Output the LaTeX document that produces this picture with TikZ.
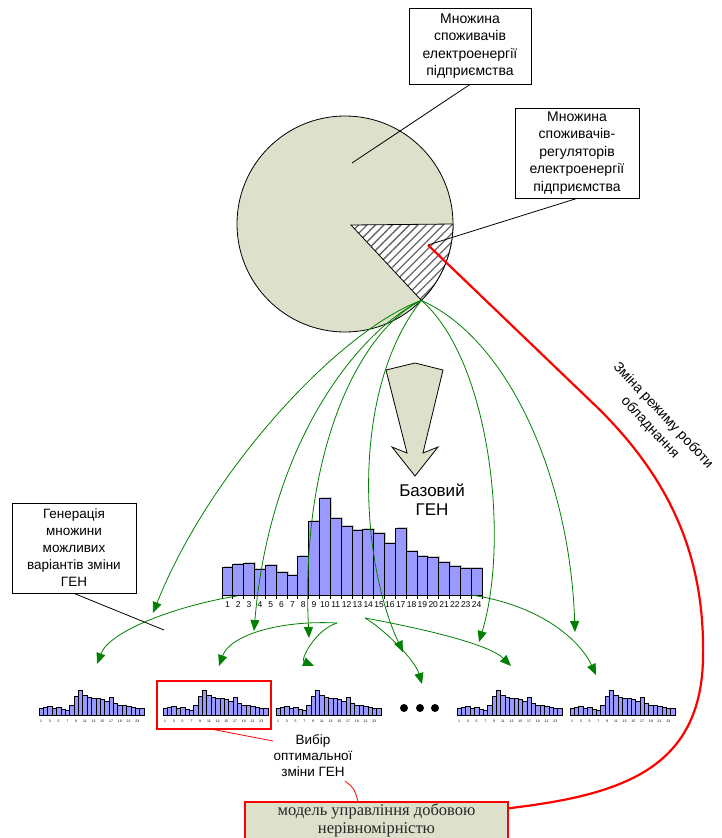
\documentclass[tikz,border=0pt]{standalone}
\usepackage{fontspec}
\setmainfont{Liberation Sans}
\newfontfamily\serifua{Liberation Serif}
\usepackage{tikz}
\usetikzlibrary{arrows.meta, patterns.meta, calc}
\definecolor{olivebg}{RGB}{221,224,202}
\definecolor{barblue}{RGB}{153,153,255}
\definecolor{arrgreen}{RGB}{0,128,0}
\definecolor{selred}{RGB}{255,0,0}
\tikzstyle{infobox} = [rectangle, draw=black, line width=0.8pt, fill=white, align=center, inner sep=0pt, font=\fontsize{14}{17.5}\selectfont]
\tikzstyle{modelbox} = [rectangle, draw=red, line width=1.5pt, fill=olivebg, minimum width=263pt, minimum height=44pt]
\tikzstyle{selbox} = [rectangle, draw=selred, color=selred, line width=1.2pt, minimum width=114pt, minimum height=48pt]
\tikzstyle{garrow} = [draw=arrgreen, line width=0.8pt, -{Triangle[length=11pt,width=9pt]}]
\tikzstyle{pointer} = [draw=black, line width=0.8pt]
\tikzstyle{redline} = [draw=red, line width=0.8pt]
\tikzstyle{genbar} = [draw=black, line width=0.8pt, fill=barblue]
\def\genvalues{27.7,31,32,26,29.7,23,19.7,38.7,73.7,96.7,76.7,68.7,64.7,65.7,61.7,52,66.7,44,38.7,37.7,33,29,26.7,26.7}
% small copy of the daily load curve, #1 = left edge
\newcommand{\minigen}[1]{%
  \begin{scope}[shift={(#1,715)}]
    \foreach \h [count=\i] in \genvalues
      \draw[genbar, line width=0.6pt] ({(\i-1)*4.375},0) rectangle ++(4.375,{-0.26*\h});
    \foreach \i in {1,3,...,23}
      \node[font=\fontsize{3.5}{4}\selectfont, inner sep=0pt] at ({(\i-0.5)*4.375},6) {\i};
  \end{scope}}

\begin{document}
\begin{tikzpicture}[x=1pt, y=-1pt]
\useasboundingbox (0,0) rectangle (721,838);
\fill[white] (0,0) rectangle (721,838);

% set of consumers
\draw[line width=0.8pt, fill=olivebg] (345,224) circle[radius=108pt];
\fill[white] (351,225) -- (453,224) arc[start angle=0, end angle=-45, radius=108pt] -- cycle;
\draw[line width=0.8pt, pattern={Lines[angle=45,distance=6pt,line width=1.3pt]}, pattern color=gray!80!black]
  (351,225) -- (453,224) arc[start angle=0, end angle=-45, radius=108pt] -- cycle;
\coordinate (tip) at (421.4,300.4);
\coordinate (allin) at (352,163);
\coordinate (regin) at (428,245);

\node (all) [infobox, minimum width=122pt, minimum height=76pt] at (470,46) {Множина\\споживачів\\електроенергії\\підприємства};
\node (reg) [infobox, minimum width=124pt, minimum height=90pt] at (577,153) {Множина\\споживачів-\\регуляторів\\електроенергії\\підприємства};
\draw[pointer] (all.south) -- (allin);
\draw[pointer] (reg.south) -- (regin);

% block arrow
\draw[line width=0.8pt, fill=olivebg] (386,370) -- (415,363) -- (443,370) -- (423,453) -- (438,447)
  -- (415,476) -- (392,447) -- (407,453) -- cycle;
\node (base) [align=center, font=\fontsize{17}{19}\selectfont] at (432,500) {Базовий\\ГЕН};

% base daily curve
\foreach \h [count=\i] in \genvalues
  \fill[gray!40] ({222+(\i-1)*10.833+1.5},595) rectangle ++(10.833,{-\h-1.5});
\foreach \h [count=\i] in \genvalues {
  \draw[genbar] ({222+(\i-1)*10.833},595) rectangle ++(10.833,-\h);
  \node (hr\i) [font=\fontsize{8.5}{10}\selectfont, inner sep=0pt] at ({222+(\i-0.5)*10.833},605) {\i};
}
\draw[pointer] (222,595) -- (482,595);
\foreach \i in {0,...,24} \draw[pointer] ({222+\i*10.833},595) -- ++(0,4);

\node (gen) [infobox, font=\fontsize{13.5}{17}\selectfont, minimum width=124pt, minimum height=90pt] at (74,548) {Генерація\\множини\\можливих\\варіантів зміни\\ГЕН};
\coordinate (genin) at (164,630);
\draw[pointer] (gen.south) -- (genin);

% variants of the curve
\minigen{39}
\minigen{163}
\minigen{276}
\minigen{457}
\minigen{570}
\foreach \x [count=\k] in {404,420,435} \fill (\x,708) circle[radius=4pt];
\node (sel) [selbox] at (214,705) {};

% targets
\coordinate (t1) at (153,613);
\coordinate (t2) at (254,631);
\coordinate (t3) at (309,638);
\coordinate (t4) at (403,652);
\coordinate (t5) at (479,642);
\coordinate (t6) at (575,632);
\coordinate (gsA) at (237,596);
\coordinate (gsB) at (337,623);
\coordinate (gsC) at (365,618);
\coordinate (gsD) at (471,595);

\draw[garrow] (tip) .. controls (340,330) and (210,470) .. (t1);
\draw[garrow] (tip) .. controls (360,330) and (270,440) .. (t2);
\draw[garrow] (tip) .. controls (360,330) and (300,450) .. (t3);
\draw[garrow] (tip) .. controls (350,390) and (360,560) .. (t4);
\draw[garrow] (tip) .. controls (490,360) and (510,540) .. (t5);
\draw[garrow] (tip) .. controls (510,340) and (570,480) .. (t6);

\draw[garrow] (gsA) .. controls (180,605) and (110,630) .. (97,664);
\draw[garrow] (gsB) .. controls (280,620) and (230,635) .. (219,666);
\draw[garrow] (gsB) .. controls (315,630) and (300,660) .. (314,666);
\draw[garrow] (gsC) .. controls (385,630) and (415,660) .. (422,684);
\draw[garrow] (gsC) .. controls (430,630) and (490,645) .. (511,666);
\draw[garrow] (gsD) .. controls (540,605) and (580,640) .. (596,675);

% choice and model
\node (choice) [align=center, font=\fontsize{13.5}{16}\selectfont] at (313,756) {Вибір\\оптимальної\\зміни ГЕН};
\coordinate (choicein) at (273,741);
\coordinate (choiceout) at (345,781);
\node (model) [modelbox] at (376.5,824) {};
\node (modeltxt) [align=center, font=\serifua\fontsize{16.5}{18}\selectfont, text=black!85] at (376.5,820) {модель управління добовою\\нерівномірністю};
\draw[redline] (sel.south) -- (choicein);
\draw[redline] (choiceout) .. controls (354,788) .. (model.north -| 358,0);

\draw[red, line width=2.2pt] (regin) -- (600,410) .. controls (680,490) and (705,570) .. (703,660)
  .. controls (700,770) and (620,795) .. ($(model.north east)+(0,7)$);
\node (mode) [align=center, rotate=-47, font=\fontsize{14}{18}\selectfont] at (656.5,421.5) {Зміна режиму роботи\\обладнання};
\end{tikzpicture}
\end{document}
